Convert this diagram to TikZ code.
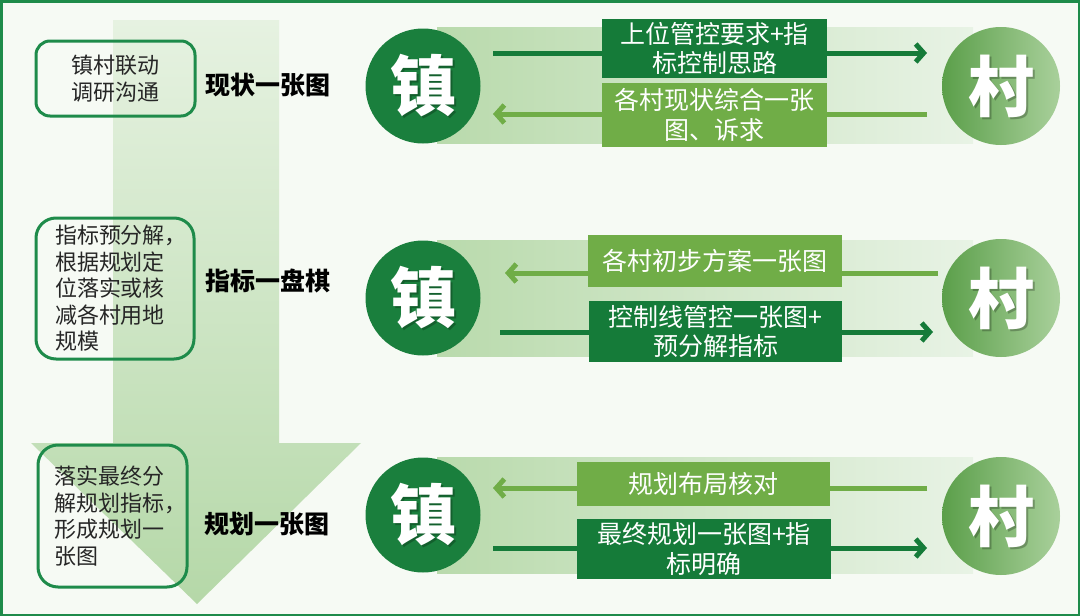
\documentclass[tikz,border=0pt]{standalone}
\usepackage{fontspec}
\setmainfont{Noto Sans CJK SC}
\usetikzlibrary{arrows.meta}
\definecolor{bg}{HTML}{F6FAF4}
\definecolor{frame}{HTML}{1E8B4A}
\definecolor{zg}{HTML}{1A7F3D}
\definecolor{dkg}{HTML}{157B39}
\definecolor{ltg}{HTML}{70AD47}
\definecolor{cunL}{HTML}{5B9F4A}
\definecolor{cunR}{HTML}{A9D09B}
\definecolor{bandL}{HTML}{B9DAAC}
\definecolor{bandR}{HTML}{E8F3E5}
\definecolor{arrT}{HTML}{E6F2E1}
\definecolor{arrB}{HTML}{B5D8A8}
\begin{document}
\begin{tikzpicture}[x=1pt,y=-1pt,
 lbox/.style={draw=frame,line width=3pt,inner sep=0pt,text=black!85,font=\fontsize{22}{26.5}\selectfont},
 stage/.style={font=\bfseries\fontsize{25}{30}\selectfont,text=black},
 rbox/.style={inner sep=0pt,text=white,align=center,font=\fontsize{25}{29.5}\selectfont},
 dbox/.style={rbox,fill=dkg},
 lgbox/.style={rbox,fill=ltg},
 zhen/.style={circle,fill=zg,minimum size=115pt,inner sep=0pt},
 cun/.style={circle,left color=cunL,right color=cunR,minimum size=118pt,inner sep=0pt},
 glyph/.style={text=white,font=\bfseries\fontsize{66}{66}\selectfont},
 glyphsh/.style={text=black,opacity=0.25,font=\bfseries\fontsize{66}{66}\selectfont},
 darr/.style={draw=dkg,line width=5pt,-{Straight Barb[length=8pt,width=18pt]}},
 larr/.style={draw=ltg,line width=5pt,-{Straight Barb[length=8pt,width=18pt]}},
 band/.style={left color=bandL,right color=bandR}
]
\useasboundingbox (0,0) rectangle (1080,616);
\fill[bg] (0,0) rectangle (1080,616);
\draw[frame,line width=2.5pt] (1.25,1.25) rectangle (1078.75,614.75);

% big down arrow
\shade[top color=arrT,bottom color=arrB] (113,20) -- (279,20) -- (279,443) -- (361,443) -- (197,604) -- (31,443) -- (113,443) -- cycle;

% left boxes
\node[lbox,rounded corners=14pt,minimum width=159pt,minimum height=75pt,align=center] (b1) at (115.5,78.5) {镇村联动\\调研沟通};
\node[lbox,rounded corners=20pt,minimum width=158pt,minimum height=141pt,text width=120pt,align=left] (b2) at (115,288.5) {指标预分解，\\根据规划定\\位落实或核\\减各村用地\\规模};
\node[lbox,rounded corners=20pt,minimum width=149pt,minimum height=142pt,text width=116pt,align=left] (b3) at (112.5,516) {落实最终分\\解规划指标，\\形成规划一\\张图};

% stage labels
\node[stage] (s1) at (268,85) {现状一张图};
\node[stage] (s2) at (268,281) {指标一盘棋};
\node[stage] (s3) at (267,524) {规划一张图};

% row 1
\shade[band] (437,27) rectangle (973,143);
\node[zhen] (z1) at (423,86) {};
\node[cun] (c1) at (1001,86) {};
\coordinate (p1a) at (493,53); \coordinate (p1b) at (927,53);
\coordinate (q1a) at (927,114); \coordinate (q1b) at (493,114);
\draw[darr] (p1a) -- (p1b);
\draw[larr] (q1a) -- (q1b);
\node[dbox,minimum width=225pt,minimum height=59pt] (r1a) at (714.5,48.5) {上位管控要求+指\\标控制思路};
\node[lgbox,minimum width=225pt,minimum height=64pt] (r1b) at (714.5,115) {各村现状综合一张\\图、诉求};

% row 2
\shade[band] (437,240) rectangle (973,356);
\node[zhen] (z2) at (423,298) {};
\node[cun] (c2) at (1001,298) {};
\coordinate (p2a) at (938,273); \coordinate (p2b) at (505,273);
\coordinate (q2a) at (500,332); \coordinate (q2b) at (933,332);
\draw[larr] (p2a) -- (p2b);
\draw[darr] (q2a) -- (q2b);
\node[lgbox,minimum width=254pt,minimum height=52pt] (r2a) at (715,261) {各村初步方案一张图};
\node[dbox,minimum width=253pt,minimum height=61pt] (r2b) at (715.5,331.5) {控制线管控一张图+\\预分解指标};

% row 3
\shade[band] (437,457) rectangle (973,573);
\node[zhen] (z3) at (423,515) {};
\node[cun] (c3) at (1001,516) {};
\coordinate (p3a) at (927,488); \coordinate (p3b) at (493,488);
\coordinate (q3a) at (493,548); \coordinate (q3b) at (927,548);
\draw[larr] (p3a) -- (p3b);
\draw[darr] (q3a) -- (q3b);
\node[lgbox,minimum width=253pt,minimum height=44pt] (r3a) at (703.5,484) {规划布局核对};
\node[dbox,minimum width=254pt,minimum height=60pt] (r3b) at (704,549) {最终规划一张图+指\\标明确};

% circle glyphs
\foreach \n/\g in {z1/镇,z2/镇,z3/镇,c1/村,c2/村,c3/村}{
  \node[glyphsh] at ([shift={(2,2)}]\n) {\g};
  \node[glyph] (\n t) at (\n) {\g};
}
\end{tikzpicture}
\end{document}
